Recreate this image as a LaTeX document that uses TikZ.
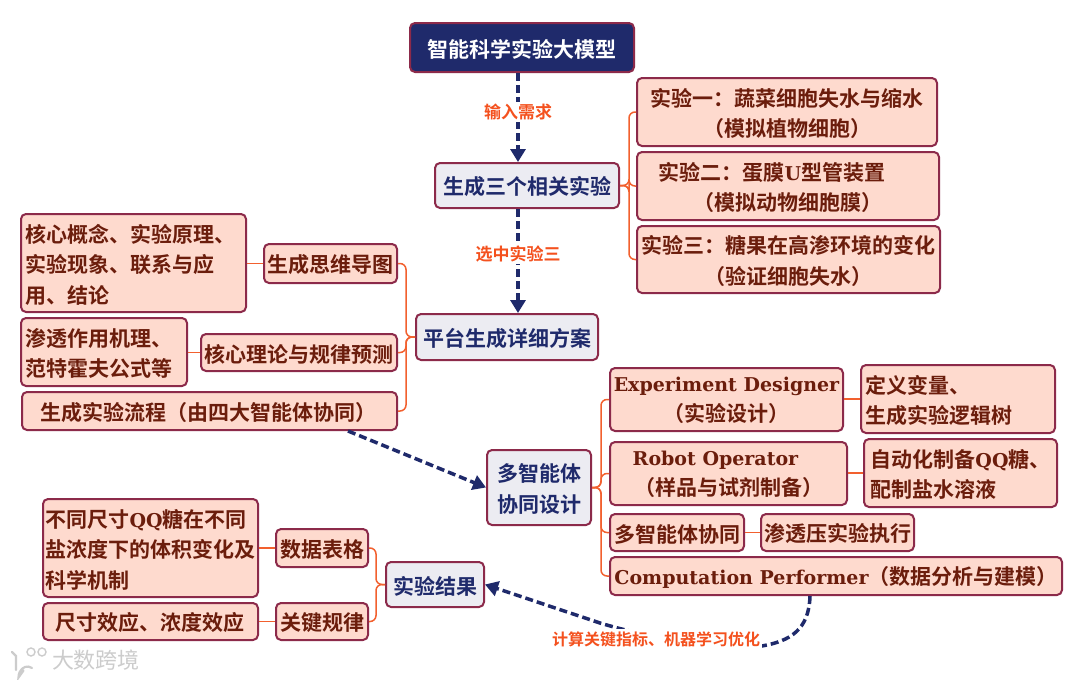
\documentclass[tikz,border=0pt]{standalone}
\usepackage{fontspec}
\setmainfont{Noto Sans CJK SC}[BoldFont={Noto Sans CJK SC Bold}]
\newfontfamily\latf{DejaVu Serif}[BoldFont={DejaVu Serif Bold}]
\usetikzlibrary{calc,arrows.meta}
\definecolor{navy}{HTML}{1F2A6B}
\definecolor{bordr}{HTML}{8C2A4A}
\definecolor{peach}{HTML}{FEDACE}
\definecolor{pale}{HTML}{ECECF2}
\definecolor{maroon}{HTML}{6B1D0C}
\definecolor{orng}{HTML}{F2602E}
\definecolor{lab}{HTML}{F4511E}
\newcommand{\lt}[1]{{\latf\bfseries\fontsize{19}{30.5}\selectfont #1}}
\newcommand{\lift}{\rule[-7pt]{0pt}{1pt}}
\tikzset{
  x=1pt,y=-1pt,
  basebox/.style={draw=bordr,line width=2pt,rounded corners=5pt,inner sep=0pt,font=\bfseries\fontsize{21}{30.5}\selectfont},
  peachbox/.style={basebox,fill=peach,text=maroon,align=center},
  palebox/.style={basebox,fill=pale,text=navy,align=center},
  topbox/.style={basebox,fill=navy,text=white,align=center},
  leftbox/.style={peachbox,align=left},
  link/.style={draw=orng,line width=1.5pt,rounded corners=6pt},
  flow/.style={draw=navy,line width=3.5pt,dash pattern=on 8pt off 4pt,-{Triangle[length=13pt,width=15pt]}},
  flabel/.style={text=lab,fill=white,inner sep=2pt,font=\bfseries\fontsize{17}{20}\selectfont},
  flabelb/.style={flabel,font=\bfseries\fontsize{16}{20}\selectfont},
}
% name, x1, y1, x2, y2, style, text
\newcommand{\bx}[7]{\node[#6,minimum width=#4pt-#2pt,minimum height=#5pt-#3pt] (#1) at ({(#2+#4)/2},{(#3+#5)/2}) {\rule{0pt}{21pt}#7};}
\newcommand{\lnk}[3]{\draw[link] (#1.east) -- ($(#1.east)+(#3,0)$) |- (#2.west);}
\begin{document}
\begin{tikzpicture}
\useasboundingbox (0,0) rectangle (1080,680);
\fill[white] (0,0) rectangle (1080,680);
\bx{top}{410}{23}{634}{72}{topbox}{智能科学实验大模型}
\bx{gen}{435}{163}{619}{208}{palebox}{生成三个相关实验}
\bx{plat}{416}{314}{598}{360}{palebox}{平台生成详细方案}
\bx{multi}{487}{450}{591}{525}{palebox}{多智能体\\协同设计}
\bx{res}{386}{562}{484}{607}{palebox}{实验结果}
\bx{e1}{637}{78}{937}{146}{peachbox}{实验一：蔬菜细胞失水与缩水\\（模拟植物细胞）}
\bx{e2}{637}{152}{939}{220}{peachbox}{实验二：蛋膜\lt{U}型管装置\hspace*{32pt}\\（模拟动物细胞膜）}
\bx{e3}{637}{226}{940}{293}{peachbox}{实验三：糖果在高渗环境的变化\\（验证细胞失水）}
\bx{core}{21}{214}{246}{312}{leftbox}{核心概念、实验原理、\hspace*{6pt}\\实验现象、联系与应\\用、结论}
\bx{mind}{264}{244}{397}{283}{peachbox}{生成思维导图}
\bx{osm}{21}{318}{187}{386}{leftbox}{渗透作用机理、\hspace*{10pt}\\范特霍夫公式等}
\bx{theory}{201}{334}{397}{371}{peachbox}{核心理论与规律预测}
\bx{proc}{22}{392}{397}{430}{peachbox}{生成实验流程（由四大智能体协同）\hspace*{2pt}}
\bx{ed}{610}{368}{843}{431}{peachbox}{\lt{Experiment Designer}\\（实验设计）\lift}
\bx{edd}{861}{365}{1055}{433}{leftbox}{定义变量、\\生成实验逻辑树\hspace*{38pt}}
\bx{ro}{610}{442}{847}{505}{peachbox}{\lt{Robot Operator}\hspace*{26pt}\\（样品与试剂制备）\lift}
\bx{rod}{864}{439}{1057}{507}{leftbox}{自动化制备\lt{QQ}糖、\\配制盐水溶液}
\bx{ma}{610}{514}{744}{551}{peachbox}{多智能体协同}
\bx{ex}{761}{514}{914}{551}{peachbox}{渗透压实验执行}
\bx{cp}{610}{557}{1062}{595}{peachbox}{\lt{Computation Performer}（数据分析与建模）}
\bx{tab}{276}{529}{368}{567}{peachbox}{数据表格}
\bx{tabd}{43}{499}{258}{597}{leftbox}{不同尺寸\lt{QQ}糖在不同\\盐浓度下的体积变化及\\科学机制}
\bx{rule}{276}{603}{368}{640}{peachbox}{关键规律}
\bx{ruled}{43}{603}{258}{640}{peachbox}{尺寸效应、浓度效应}

\foreach \c in {e1,e2,e3} {\lnk{gen}{\c}{9}}
\draw[link] (plat.west) -- ($(plat.west)+(-9,0)$) |- (mind.east);
\draw[link] (plat.west) -- ($(plat.west)+(-9,0)$) |- (theory.east);
\draw[link] (plat.west) -- ($(plat.west)+(-9,0)$) |- (proc.east);
\draw[link] (mind.west) -- (core.east |- mind.west);
\draw[link] (theory.west) -- (osm.east |- theory.west);
\foreach \c in {ed,ro,ma,cp} {\lnk{multi}{\c}{9}}
\draw[link] (ed.east |- edd.west) -- (edd.west);
\draw[link] (ro.east |- rod.west) -- (rod.west);
\draw[link] (ma.east) -- (ex.west);
\draw[link] (res.west) -- ($(res.west)+(-9,0)$) |- (tab.east);
\draw[link] (res.west) -- ($(res.west)+(-9,0)$) |- (rule.east);
\draw[link] (tab.west) -- (tabd.east |- tab.west);
\draw[link] (rule.west) -- (ruled.east);

\coordinate (ax) at (518,0);
\draw[flow] (ax |- top.south) -- node[flabel,pos=.44] (l1) {输入需求} (ax |- gen.north);
\draw[flow] (ax |- gen.south) -- node[flabel,pos=.43] (l2) {选中实验三} (ax |- plat.north);
\coordinate (s3) at (348,0);
\draw[flow] (s3 |- proc.south) -- (multi.west);
\coordinate (s4) at (810,0);
\draw[flow] (s4 |- cp.south) .. controls (809,630) and (790,641) .. (762,646) .. controls (710,648) and (650,638) .. (600,623) -- (res.east);
\node[flabelb] (l3) at (656,639) {计算关键指标、机器学习优化};

% watermark
\node[text=black!20,font=\fontsize{22}{24}\selectfont,inner sep=0pt] (wm) at (96,660) {大数跨境};
\draw[black!20,line width=2.2pt,line cap=round] (12,652) -- (16,656) -- (16,670);
\draw[black!20,line width=2.2pt,line cap=round] (32,668) arc (60:180:9pt and 11pt) -- ++(5,-7);
\draw[black!20,line width=1.4pt] (31,652) circle (4pt);
\draw[black!20,line width=1.4pt] (42,652) circle (4pt);
\end{tikzpicture}
\end{document}
